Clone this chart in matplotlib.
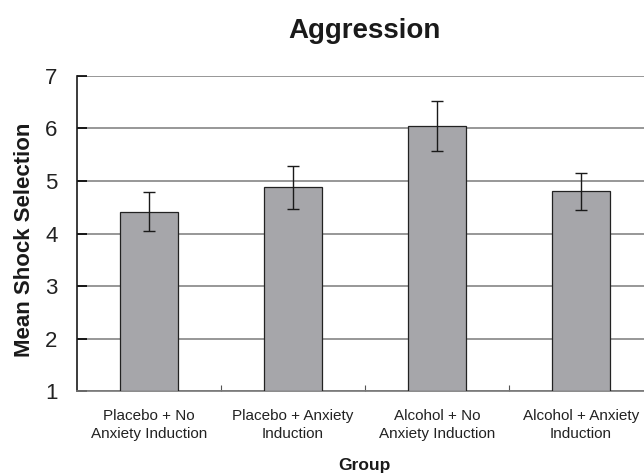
import matplotlib.pyplot as plt

groups = ['Placebo + No\nAnxiety Induction', 'Placebo + Anxiety\nInduction',
          'Alcohol + No\nAnxiety Induction', 'Alcohol + Anxiety\nInduction']
means = [4.41, 4.88, 6.04, 4.80]
errors = [0.37, 0.41, 0.47, 0.35]

plt.rcParams['font.family'] = ['Liberation Sans', 'DejaVu Sans']

fig = plt.figure(figsize=(6.44, 4.75), dpi=100)
ax = fig.add_axes([0.1196, 0.1762, 0.894, 0.6644])

x = range(len(groups))
ax.bar(x, [m - 1 for m in means], bottom=1, width=0.4, color='#a6a6aa',
       edgecolor='#222222', linewidth=0.9, zorder=3)
ax.errorbar(x, means, yerr=errors, fmt='none', ecolor='#1a1a1a',
            elinewidth=1, capsize=4.5, capthick=1, zorder=4)

ax.set_xlim(-0.5, 3.5)
ax.set_ylim(1, 7)
ax.set_yticks(range(1, 8))
ax.yaxis.grid(True, color='#7a7a7a', linewidth=1.1, zorder=0)
ax.set_axisbelow(True)

# small ticks between the groups, labels centred under the bars
ax.set_xticks([0.5, 1.5, 2.5])
ax.set_xticklabels([])
ax.set_xticks(list(x), minor=True)
ax.set_xticklabels(groups, minor=True, fontsize=11, color='#222222',
                   linespacing=1.3)
ax.tick_params(axis='x', which='major', direction='in', length=4,
               color='#555555')
ax.tick_params(axis='x', which='minor', length=0, pad=13)
ax.tick_params(axis='y', direction='in', length=7, width=1.2,
               labelsize=16, labelcolor='#222222', pad=14)

ax.spines['top'].set_visible(False)
ax.spines['right'].set_visible(False)
ax.spines['left'].set_color('#1a1a1a')
ax.spines['left'].set_linewidth(1.2)
ax.spines['bottom'].set_color('#777777')
ax.spines['bottom'].set_linewidth(1.2)

ax.set_title('Aggression', fontsize=20, fontweight='bold', color='#1a1a1a',
             pad=27)
ax.set_xlabel('Group', fontsize=12.5, fontweight='bold', color='#1a1a1a')
ax.xaxis.set_label_coords(0.5, -0.212)
ax.set_ylabel('Mean Shock Selection', fontsize=16, fontweight='bold',
              color='#1a1a1a')
ax.yaxis.set_label_coords(-0.073, 0.48)

fig.savefig('out.png', dpi=100)
